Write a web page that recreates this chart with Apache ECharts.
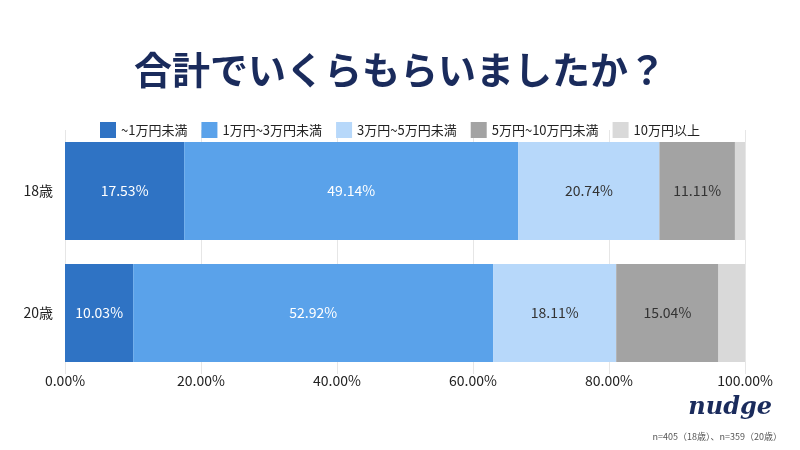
<!DOCTYPE html>
<html><head><meta charset="utf-8">
<script src="https://cdn.jsdelivr.net/npm/echarts@6/dist/echarts.min.js"></script>
<style>body{margin:0;background:#fff}#c{width:800px;height:450px}</style>
</head><body><div id="c"></div>
<script>
var categories = ['18歳', '20歳'];
var seriesNames = ['~1万円未満', '1万円~3万円未満', '3万円~5万円未満', '5万円~10万円未満', '10万円以上'];
var s1 = [17.53, 10.03];
var s2 = [49.14, 52.92];
var s3 = [20.74, 18.11];
var s4 = [11.11, 15.04];
var s5 = [1.48, 3.90];
var colors = ['#2f73c4', '#5aa2ea', '#b7d8fa', '#a3a3a3', '#d9d9d9'];
var font = '"Noto Sans CJK JP", sans-serif';

var chart = echarts.init(document.getElementById('c'));
var all = [s1, s2, s3, s4, s5];
var series = all.map(function (d, i) {
  return {
    name: seriesNames[i], type: 'bar', stack: 'a', data: d,
    barWidth: 98,
    itemStyle: { color: colors[i] },
    label: {
      show: i < 4, color: i < 2 ? '#fff' : '#333', fontSize: 14, fontFamily: font,
      formatter: function (p) { return p.value.toFixed(2) + '%'; }
    }
  };
});
chart.setOption({
  color: colors,
  title: {
    text: '合計でいくらもらいましたか？', left: 'center', top: 46,
    textStyle: { fontSize: 38, fontWeight: 'bold', color: '#1a2b5c', fontFamily: font }
  },
  legend: {
    top: 117, left: 'center', itemWidth: 16, itemHeight: 16, itemGap: 14,
    icon: 'rect', textStyle: { fontSize: 13, color: '#222', fontFamily: font }
  },
  grid: { left: 65, right: 55, top: 130, bottom: 76 },
  xAxis: {
    type: 'value', min: 0, max: 100, interval: 20,
    axisLabel: { formatter: function (v) { return v.toFixed(2) + '%'; }, fontSize: 14, color: '#222', fontFamily: font, margin: 0 },
    splitLine: { lineStyle: { color: '#e6e6e6' } }
  },
  yAxis: {
    type: 'category', data: categories, inverse: true,
    axisTick: { show: false }, axisLine: { show: false },
    axisLabel: { fontSize: 14, color: '#222', fontFamily: font, margin: 12 }
  },
  graphic: [
    { type: 'text', right: 28, top: 396, style: { text: 'nudge', font: 'italic bold 24px "DejaVu Serif", serif', fill: '#1a2b5c' } },
    { type: 'text', right: 18, top: 432, style: { text: 'n=405（18歳）、n=359（20歳）', font: '9px ' + font, fill: '#555' } }
  ],
  series: series
});
</script></body></html>
